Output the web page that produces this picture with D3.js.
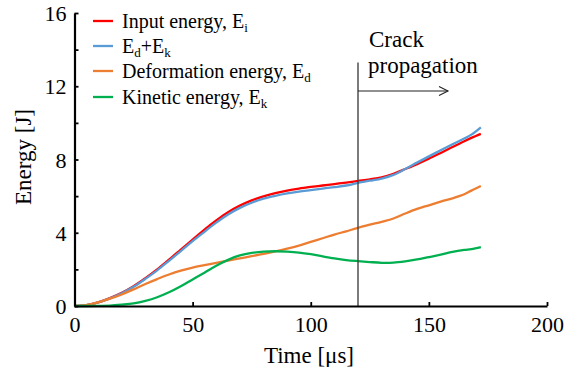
<!DOCTYPE html>
<html><head><meta charset="utf-8">
<script src="https://cdn.jsdelivr.net/npm/d3@7"></script>
<style>html,body{margin:0;padding:0;background:#fff;}text{font-family:"Liberation Serif","Times New Roman",serif;}</style>
</head><body>
<svg id="c" width="569" height="367"></svg>
<script>
const time    = [0,5,10,15,20,25,30,35,40,45,50,55,60,65,70,75,80,85,90,95,100,105,110,115,120,125,130,135,140,145,150,155,160,165,168,172];
const inputE  = [0,0.05,0.2,0.43,0.72,1.08,1.52,2.0,2.53,3.08,3.63,4.17,4.67,5.12,5.48,5.77,5.99,6.16,6.3,6.41,6.5,6.58,6.66,6.74,6.83,6.92,7.03,7.22,7.48,7.75,8.05,8.35,8.68,9.0,9.18,9.4];
const sumE    = [0,0.05,0.2,0.42,0.7,1.05,1.48,1.95,2.47,3.0,3.54,4.05,4.55,5.0,5.36,5.64,5.86,6.02,6.15,6.25,6.33,6.41,6.49,6.58,6.72,6.84,6.96,7.16,7.48,7.83,8.17,8.5,8.83,9.15,9.36,9.76];
const deformE = [0,0.05,0.2,0.4,0.63,0.91,1.2,1.47,1.72,1.93,2.1,2.23,2.35,2.48,2.6,2.72,2.85,2.98,3.13,3.3,3.5,3.7,3.9,4.08,4.27,4.44,4.6,4.78,5.05,5.3,5.5,5.7,5.88,6.1,6.3,6.55];
const kineticE= [0,0,0.01,0.02,0.07,0.14,0.28,0.48,0.75,1.08,1.45,1.82,2.2,2.52,2.76,2.9,2.97,2.99,2.97,2.92,2.83,2.71,2.6,2.51,2.45,2.4,2.36,2.37,2.44,2.54,2.67,2.8,2.95,3.06,3.11,3.22];
const xTicks = [0,50,100,150,200];
const yTicks = [0,4,8,12,16];
const yMinor = [2,6,10,14];
const crackTime = 120;
const seriesNames = ["Input energy, E|i","E|d|+E|k","Deformation energy, E|d","Kinetic energy, E|k"];
const seriesColors = ["#ff0000","#5b9bd5","#ed7d31","#00b050"];
const seriesData = [inputE,sumE,deformE,kineticE];
const FONT = "Liberation Serif, Times New Roman, serif";

const svg = d3.select("#c");
const x = d3.scaleLinear().domain([0,200]).range([74.5,547]);
const y = d3.scaleLinear().domain([0,16]).range([306,13]);

// curves
const line = d3.line().x(d=>x(d[0])).y(d=>y(d[1])).curve(d3.curveCatmullRom.alpha(0.5));
seriesData.forEach((s,i)=>{
  svg.append("path").datum(time.map((t,j)=>[t,s[j]]))
    .attr("d",line).attr("fill","none").attr("stroke",seriesColors[i]).attr("stroke-width",2.3)
    .attr("stroke-linejoin","round");
});

// crack line
svg.append("line").attr("x1",x(crackTime)).attr("x2",x(crackTime)).attr("y1",62.5).attr("y2",y(0))
  .attr("stroke","#444").attr("stroke-width",1.4);
const ay = 91, ax2 = 448;
svg.append("line").attr("x1",x(crackTime)).attr("x2",ax2).attr("y1",ay).attr("y2",ay).attr("stroke","#222").attr("stroke-width",1.1);
svg.append("path").attr("d",`M${ax2-9},${ay-4.5}L${ax2},${ay}L${ax2-9},${ay+4.5}`).attr("fill","none").attr("stroke","#222").attr("stroke-width",1.1);
svg.append("text").attr("x",369).attr("y",47).attr("font-family",FONT).attr("font-size",23).text("Crack");
svg.append("text").attr("x",368).attr("y",73).attr("font-family",FONT).attr("font-size",23).text("propagation");

// axes
const xa = svg.append("g").attr("transform",`translate(0,${y(0)})`)
  .call(d3.axisBottom(x).tickValues(xTicks).tickSize(-4).tickPadding(10).tickSizeOuter(0));
const ya = svg.append("g").attr("transform",`translate(${x(0)},0)`)
  .call(d3.axisLeft(y).tickValues(yTicks).tickSize(-4).tickPadding(8).tickSizeOuter(0));
svg.append("g").attr("transform",`translate(${x(0)},0)`)
  .call(d3.axisLeft(y).tickValues(yMinor).tickSize(-4).tickFormat("").tickSizeOuter(0))
  .select(".domain").remove();
svg.selectAll("g").attr("font-family",FONT);
svg.selectAll(".domain").attr("stroke","#000").attr("stroke-width",2.2);
svg.selectAll(".tick line").attr("stroke","#000").attr("stroke-width",1.8);
svg.selectAll(".tick text").attr("font-family",FONT).attr("font-size",22).attr("fill","#000");
xa.selectAll(".tick text").attr("dy","0.71em");
ya.selectAll(".tick text").attr("dy","0.35em");

// axis titles
svg.append("text").attr("x",309).attr("y",363).attr("text-anchor","middle").attr("font-family",FONT).attr("font-size",23).text("Time [μs]");
svg.append("text").attr("transform","translate(31,157) rotate(-90)").attr("text-anchor","middle").attr("font-family",FONT).attr("font-size",23).text("Energy [J]");

// legend
const rows = [21,46,71,97];
seriesNames.forEach((name,i)=>{
  svg.append("line").attr("x1",93).attr("x2",113).attr("y1",rows[i]).attr("y2",rows[i])
    .attr("stroke",seriesColors[i]).attr("stroke-width",2.3);
  const t = svg.append("text").attr("x",122).attr("y",rows[i]+6.5).attr("font-family",FONT).attr("font-size",20);
  const parts = name.split("|");
  parts.forEach((p,k)=>{
    const sub = k%2===1;
    t.append("tspan").attr("font-size",sub?13:20).attr("dy",sub?4:(k>0?-4:0)).text(p);
  });
});
</script>
</body></html>
